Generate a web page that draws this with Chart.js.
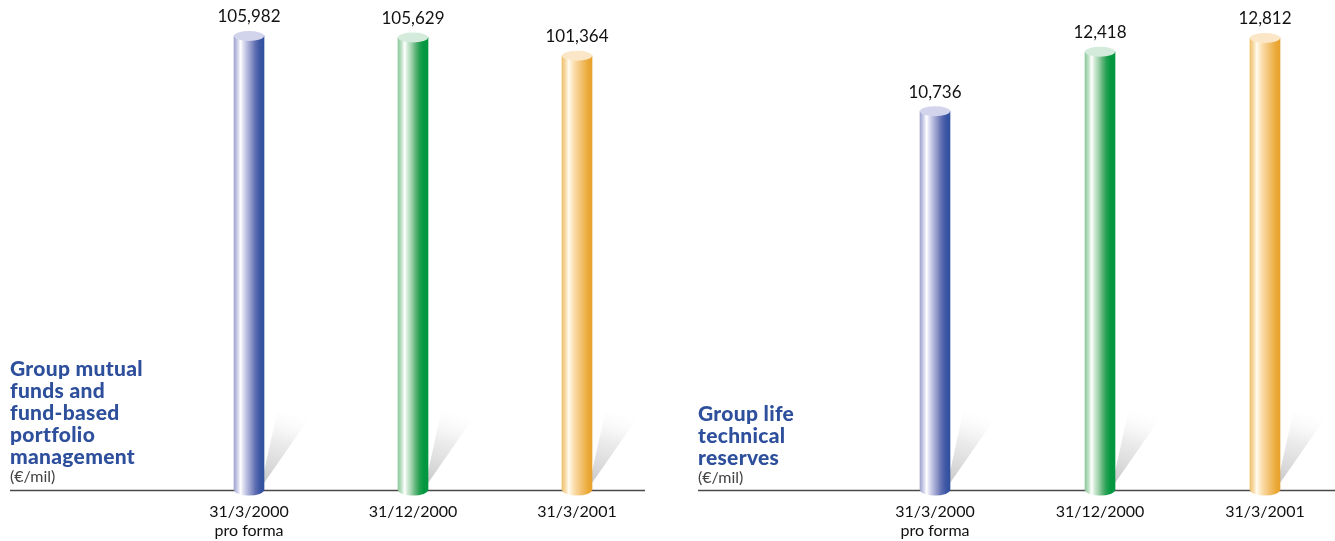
<!DOCTYPE html>
<html>
<head>
<meta charset="utf-8">
<script src="https://cdn.jsdelivr.net/npm/chart.js@4/dist/chart.umd.min.js"></script>
<style>
  html, body { margin: 0; padding: 0; background: #fff; }
  #wrap { position: relative; width: 1335px; height: 541px; overflow: hidden; }
  canvas { position: absolute; top: 0; }
  #fundsChart { left: 0; }
  #lifeChart { left: 680px; }
  .caption {
    position: absolute;
    font-family: Lato, "Open Sans", sans-serif;
    font-weight: 900;
    font-size: 21px;
    letter-spacing: 0.3px;
    line-height: 22px;
    color: #2e4f9c;
  }
  .caption span {
    display: block;
    font-weight: 400;
    font-size: 16px;
    letter-spacing: 0;
    line-height: 18px;
    color: #444;
  }
  #fundsCaption { left: 10px; top: 357px; }
  #lifeCaption { left: 698px; top: 402px; }
</style>
</head>
<body>
<div id="wrap">
  <canvas id="fundsChart" width="680" height="541"></canvas>
  <canvas id="lifeChart" width="655" height="541"></canvas>
  <div class="caption" id="fundsCaption">Group mutual<br>funds and<br>fund-based<br>portfolio<br>management<span>(€/mil)</span></div>
  <div class="caption" id="lifeCaption">Group life<br>technical<br>reserves<span>(€/mil)</span></div>
</div>
<script>
// data
const categories = [['31/3/2000', 'pro forma'], '31/12/2000', '31/3/2001'];
const fundsValues = [105982, 105629, 101364];
const lifeValues = [10736, 12418, 12812];

// cylinder colours, one palette per date (left to right across the bar)
const palettes = [
  { top: '#d2d4ec', stops: ['#9ea4d0', '#cfd2ea', '#ffffff', '#dadcef', '#b2b6db', '#8b93c6', '#5c6cb0', '#3c57a4', '#2f4f9e'] },
  { top: '#d4ebdb', stops: ['#8cc99c', '#c0e2c8', '#ffffff', '#d0e9d6', '#9fd2ab', '#5fb47a', '#22a050', '#03973f', '#009640'] },
  { top: '#fbe7c8', stops: ['#efc06a', '#f8dcaa', '#fffaf0', '#fdebc9', '#f9d79f', '#f5c880', '#f0b95a', '#eba93a', '#e8a12a'] }
];
const stopPos = [0, 0.12, 0.22, 0.32, 0.45, 0.58, 0.72, 0.86, 1];
const BAR_W = 30;

function sideGradient(ctx, x, i) {
  const g = ctx.createLinearGradient(x - BAR_W / 2, 0, x + BAR_W / 2, 0);
  palettes[i].stops.forEach((c, k) => g.addColorStop(stopPos[k], c));
  return g;
}

// shadow on the floor, baseline, caps and value labels
const cylinderPlugin = {
  id: 'cylinder',
  beforeDatasetsDraw(chart, args, opts) {
    const ctx = chart.ctx;
    const y0 = chart.chartArea.bottom;
    ctx.save();
    ctx.strokeStyle = '#4a4a4a';
    ctx.lineWidth = 1.5;
    ctx.beginPath();
    ctx.moveTo(opts.lineFrom, y0 + 0.5);
    ctx.lineTo(opts.lineTo, y0 + 0.5);
    ctx.stroke();
    chart.getDatasetMeta(0).data.forEach(el => {
      const xr = el.x + BAR_W / 2;
      const g = ctx.createLinearGradient(xr, el.base, xr + 25, el.base - 80);
      g.addColorStop(0, 'rgba(185,185,185,0.85)');
      g.addColorStop(0.6, 'rgba(222,222,222,0.6)');
      g.addColorStop(1, 'rgba(248,248,248,0)');
      ctx.fillStyle = g;
      ctx.beginPath();
      ctx.moveTo(xr - 4, el.base);
      ctx.lineTo(xr + 14, el.base - 82);
      ctx.lineTo(xr + 48, el.base - 76);
      ctx.lineTo(xr - 2, el.base - 4);
      ctx.closePath();
      ctx.fill();
    });
    ctx.restore();
  },
  afterDatasetsDraw(chart) {
    const ctx = chart.ctx;
    const ds = chart.data.datasets[0];
    ctx.save();
    chart.getDatasetMeta(0).data.forEach((el, i) => {
      // rounded bottom
      ctx.fillStyle = sideGradient(ctx, el.x, i);
      ctx.beginPath();
      ctx.ellipse(el.x, el.base, BAR_W / 2, 5.5, 0, 0, Math.PI);
      ctx.fill();
      // top cap
      ctx.fillStyle = palettes[i].top;
      ctx.beginPath();
      ctx.ellipse(el.x, el.y, BAR_W / 2, 5, 0, 0, Math.PI * 2);
      ctx.fill();
      // value
      ctx.fillStyle = '#111';
      ctx.font = '17px Lato, "Open Sans", sans-serif';
      ctx.textAlign = 'center';
      ctx.textBaseline = 'middle';
      ctx.fillText(ds.data[i].toLocaleString('en-US'), el.x, el.y - 19);
    });
    ctx.restore();
  }
};

function makeChart(id, values, yMax, padLeft, padRight, lineFrom, lineTo) {
  const ctx = document.getElementById(id).getContext('2d');
  return new Chart(ctx, {
    type: 'bar',
    data: {
      labels: categories,
      datasets: [{
        data: values,
        clip: false,
        barThickness: BAR_W,
        borderWidth: 0,
        backgroundColor: function (c) {
          const chart = c.chart;
          if (!chart.chartArea || !chart.scales.x) return palettes[c.dataIndex].stops[4];
          const x = chart.scales.x.getPixelForValue(c.dataIndex);
          return sideGradient(chart.ctx, x, c.dataIndex);
        }
      }]
    },
    options: {
      responsive: false,
      animation: false,
      layout: { padding: { left: padLeft, right: padRight, top: 20, bottom: 0 } },
      plugins: {
        legend: { display: false },
        tooltip: { enabled: false },
        cylinder: { lineFrom: lineFrom, lineTo: lineTo }
      },
      scales: {
        x: {
          offset: false,
          grid: { display: false },
          border: { display: false },
          ticks: {
            color: '#111',
            padding: 4,
            maxRotation: 0,
            autoSkip: false,
            font: { family: 'Lato, "Open Sans", sans-serif', size: 16 }
          },
          afterFit: s => { s.height = 51; }
        },
        y: { display: false, min: 0, max: yMax }
      }
    },
    plugins: [cylinderPlugin]
  });
}

makeChart('fundsChart', fundsValues, 109700, 249, 103, 10, 645);
makeChart('lifeChart', lifeValues, 13320, 255, 70, 18, 655);
</script>
</body>
</html>
